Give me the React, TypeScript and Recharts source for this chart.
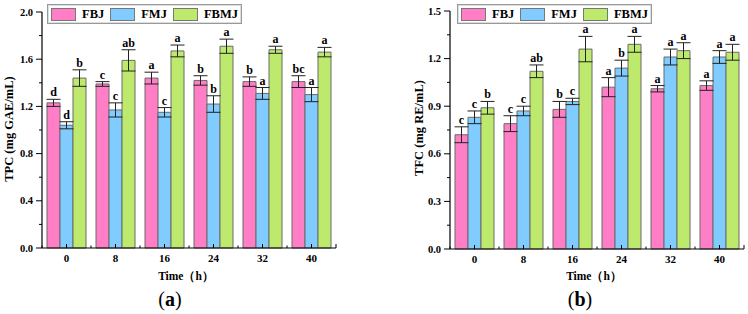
import React from 'react'
import { BarChart, Bar, XAxis, YAxis, ErrorBar, LabelList, Legend } from 'recharts'

const times = ['0', '8', '16', '24', '32', '40']
const seriesNames = ['FBJ', 'FMJ', 'FBMJ']

// TPC panel (a)
const tpcFBJ = [1.23, 1.39, 1.44, 1.42, 1.41, 1.41]
const tpcFMJ = [1.04, 1.17, 1.15, 1.22, 1.31, 1.30]
const tpcFBMJ = [1.44, 1.59, 1.67, 1.71, 1.68, 1.66]
const tpcFBJErr = [0.03, 0.02, 0.05, 0.04, 0.04, 0.05]
const tpcFMJErr = [0.03, 0.06, 0.04, 0.07, 0.05, 0.06]
const tpcFBMJErr = [0.07, 0.09, 0.05, 0.06, 0.03, 0.04]
const tpcFBJSig = ['d', 'c', 'a', 'b', 'b', 'bc']
const tpcFMJSig = ['d', 'c', 'c', 'b', 'a', 'a']
const tpcFBMJSig = ['b', 'ab', 'a', 'a', 'a', 'a']
const tpcMajorTicks = [0, 0.4, 0.8, 1.2, 1.6, 2.0]
const tpcMinorTicks = [0.2, 0.6, 1.0, 1.4, 1.8]

// TFC panel (b)
const tfcFBJ = [0.72, 0.79, 0.88, 1.02, 1.01, 1.03]
const tfcFMJ = [0.83, 0.87, 0.93, 1.14, 1.21, 1.21]
const tfcFBMJ = [0.89, 1.12, 1.26, 1.29, 1.25, 1.24]
const tfcFBJErr = [0.05, 0.05, 0.05, 0.06, 0.02, 0.03]
const tfcFMJErr = [0.04, 0.03, 0.02, 0.05, 0.05, 0.04]
const tfcFBMJErr = [0.04, 0.04, 0.08, 0.05, 0.05, 0.05]
const tfcFBJSig = ['c', 'c', 'b', 'a', 'a', 'a']
const tfcFMJSig = ['c', 'c', 'c', 'b', 'a', 'a']
const tfcFBMJSig = ['b', 'ab', 'a', 'a', 'a', 'a']
const tfcMajorTicks = [0, 0.3, 0.6, 0.9, 1.2, 1.5]
const tfcMinorTicks = [0.15, 0.45, 0.75, 1.05, 1.35]

const colors = ['#FF7EC6', '#80CCFF', '#BDEA6C']
const font = '"Liberation Serif", "Times New Roman", serif'

type Series = { vals: number[]; errs: number[]; sig: string[] }

function buildRows(series: Series[]) {
  return times.map((t, i) => {
    const row: any = { time: t }
    series.forEach((s, k) => {
      row['v' + k] = s.vals[i]
      row['e' + k] = s.errs[i]
      row['s' + k] = s.sig[i]
    })
    return row
  })
}

const isMajor = (v: number, majors: number[]) => majors.some(m => Math.abs(m - v) < 1e-6)

function YTick(props: any) {
  const { x, y, payload, majors } = props
  const major = isMajor(payload.value, majors)
  return (
    <g>
      <line x1={x - (major ? 6 : 3)} x2={x} y1={y} y2={y} stroke="#000" strokeWidth={1} />
      {major && (
        <text x={x - 9} y={y} dy={3.5} textAnchor="end" fontFamily={font} fontWeight="bold" fontSize={10.5} fill="#000">
          {payload.value.toFixed(1)}
        </text>
      )}
    </g>
  )
}

function XTick(props: any) {
  const { x, y, payload, index } = props
  const half = payload.offset || 24.5
  return (
    <g>
      <line x1={x} x2={x} y1={y} y2={y - 4} stroke="#000" strokeWidth={1} />
      <line x1={x - half} x2={x - half} y1={y} y2={y - 2.5} stroke="#000" strokeWidth={1} />
      {index === times.length - 1 && (
        <line x1={x + half} x2={x + half} y1={y} y2={y - 4} stroke="#000" strokeWidth={1} />
      )}
      <text x={x} y={y + 14} textAnchor="middle" fontFamily={font} fontWeight="bold" fontSize={11} fill="#000">
        {payload.value}
      </text>
    </g>
  )
}

function sigLabel(series: Series) {
  return (props: any) => {
    const { x, y, width, height, index, value } = props
    const perUnit = height / series.vals[index]
    const top = y - series.errs[index] * perUnit
    return (
      <text x={x + width / 2} y={top - 3} textAnchor="middle" fontFamily={font} fontWeight="bold" fontSize={12} fill="#000">
        {value}
      </text>
    )
  }
}

function LegendBox(props: any) {
  const items = [...(props.payload || [])].sort(
    (a: any, b: any) => seriesNames.indexOf(a.value) - seriesNames.indexOf(b.value)
  )
  return (
    <div style={{ display: 'inline-flex', alignItems: 'center', border: '1px solid #999', boxShadow: 'inset 0 0 0 1px #ddd', padding: '2px 3px', height: 14, background: '#fff' }}>
      {items.map((p: any, i: number) => (
        <div key={i} style={{ display: 'flex', alignItems: 'center', marginRight: i < 2 ? 6 : 0 }}>
          <div style={{ width: 23, height: 11, background: p.color, border: '1px solid #777', marginRight: 6 }} />
          <span style={{ fontFamily: font, fontWeight: 'bold', fontSize: 12.5 }}>{p.value}</span>
        </div>
      ))}
    </div>
  )
}

type PanelProps = {
  series: Series[]
  majors: number[]
  minors: number[]
  yLeft: number
  top: number
  bottom: number
  right: number
  legendLeft: number
}

function Panel({ series, majors, minors, yLeft, top, bottom, right, legendLeft }: PanelProps) {
  const rows = buildRows(series)
  const allTicks = [...majors, ...minors].sort((a, b) => a - b)
  return (
    <BarChart width={374} height={314} data={rows} margin={{ top, right, left: 0, bottom }} barGap={0} barCategoryGap={5}>
      <XAxis
        dataKey="time"
        height={30}
        interval={0}
        tickSize={0}
        tickMargin={0}
        tickLine={false}
        axisLine={{ stroke: '#000', strokeWidth: 1.2 }}
        tick={<XTick />}
      />
      <YAxis
        width={yLeft}
        domain={[majors[0], majors[majors.length - 1]]}
        ticks={allTicks}
        interval={0}
        tickSize={0}
        tickMargin={0}
        tickLine={false}
        axisLine={{ stroke: '#000', strokeWidth: 1.2 }}
        tick={<YTick majors={majors} />}
      />
      <Legend
        verticalAlign="middle"
        align="center"
        content={<LegendBox />}
        wrapperStyle={{ position: 'absolute', left: legendLeft, top: 4, width: 'auto', height: 'auto' }}
      />
      {series.map((s, k) => (
        <Bar key={k} dataKey={'v' + k} name={seriesNames[k]} fill={colors[k]} stroke="#6a6a6a" strokeWidth={1} isAnimationActive={false}>
          <ErrorBar dataKey={'e' + k} width={7} stroke="#222" strokeWidth={1} direction="y" />
          <LabelList dataKey={'s' + k} content={sigLabel(s)} />
        </Bar>
      ))}
    </BarChart>
  )
}

const tpcSeries: Series[] = [
  { vals: tpcFBJ, errs: tpcFBJErr, sig: tpcFBJSig },
  { vals: tpcFMJ, errs: tpcFMJErr, sig: tpcFMJSig },
  { vals: tpcFBMJ, errs: tpcFBMJErr, sig: tpcFBMJSig },
]
const tfcSeries: Series[] = [
  { vals: tfcFBJ, errs: tfcFBJErr, sig: tfcFBJSig },
  { vals: tfcFMJ, errs: tfcFMJErr, sig: tfcFMJSig },
  { vals: tfcFBMJ, errs: tfcFBMJErr, sig: tfcFBMJSig },
]

export default function App() {
  return (
    <div style={{ position: 'absolute', left: 0, top: 0, width: 748, height: 314, background: '#fff', overflow: 'hidden' }}>
      <div style={{ position: 'absolute', left: 0, top: 0 }}>
        <Panel series={tpcSeries} majors={tpcMajorTicks} minors={tpcMinorTicks} yLeft={42} top={12} bottom={36} right={38} legendLeft={47} />
      </div>
      <div style={{ position: 'absolute', left: 374, top: 0 }}>
        <Panel series={tfcSeries} majors={tfcMajorTicks} minors={tfcMinorTicks} yLeft={76} top={11} bottom={35} right={4} legendLeft={83} />
      </div>
      <svg width={748} height={314} style={{ position: 'absolute', left: 0, top: 0, pointerEvents: 'none' }}>
        <text transform="translate(13,129) rotate(-90)" textAnchor="middle" fontFamily={font} fontWeight="bold" fontSize={12.5}>
          TPC (mg GAE/mL)
        </text>
        <text transform="translate(423,128) rotate(-90)" textAnchor="middle" fontFamily={font} fontWeight="bold" fontSize={12.5}>
          TFC (mg RE/mL)
        </text>
        <text x={186} y={280} textAnchor="middle" fontFamily={font} fontWeight="bold" fontSize={11.5}>
          Time（h）
        </text>
        <text x={594} y={280} textAnchor="middle" fontFamily={font} fontWeight="bold" fontSize={11.5}>
          Time（h）
        </text>
        <text x={170} y={306} textAnchor="middle" fontFamily={font} fontSize={20}>
          (<tspan fontWeight="bold">a</tspan>)
        </text>
        <text x={580} y={306} textAnchor="middle" fontFamily={font} fontSize={20}>
          (<tspan fontWeight="bold">b</tspan>)
        </text>
      </svg>
    </div>
  )
}
